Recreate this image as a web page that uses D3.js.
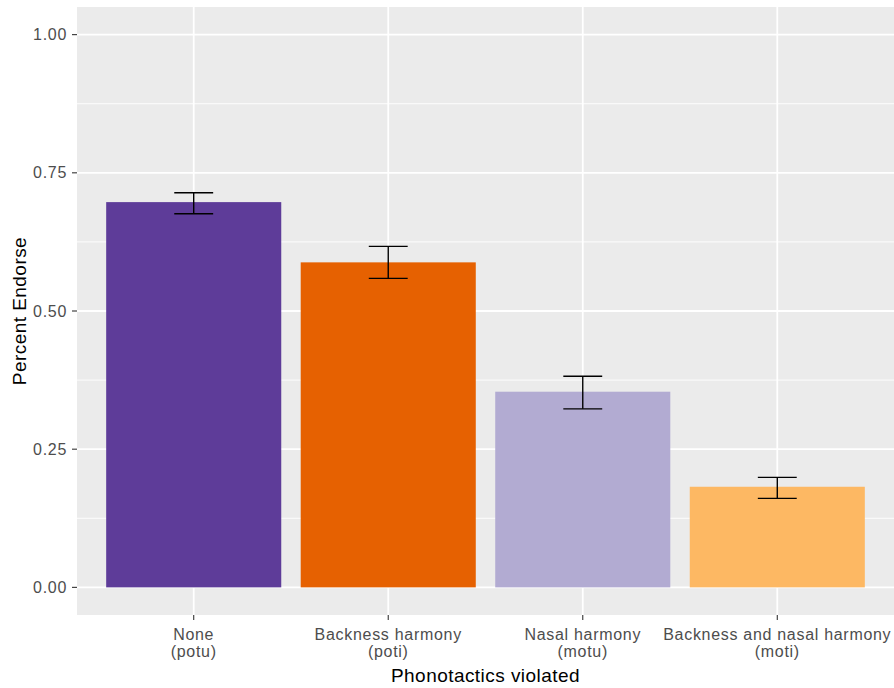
<!DOCTYPE html>
<html>
<head>
<meta charset="utf-8">
<script src="https://cdn.jsdelivr.net/npm/d3@7"></script>
<style>
  html, body { margin: 0; padding: 0; background: #fff; }
  svg { display: block; font-family: "Liberation Sans", Arial, sans-serif; }
</style>
</head>
<body>
<svg id="chart" width="894" height="688"></svg>
<script>
// Endorsement rate by which phonotactic pattern a word violates
const categories = ["None\n(potu)", "Backness harmony\n(poti)", "Nasal harmony\n(motu)", "Backness and nasal harmony\n(moti)"];
const means = [0.697, 0.588, 0.354, 0.182];
const errLow = [0.676, 0.559, 0.323, 0.161];
const errHigh = [0.714, 0.617, 0.382, 0.199];
const barColors = ["#5e3c99", "#e66101", "#b2abd2", "#fdb863"];
const yTicks = [0, 0.25, 0.5, 0.75, 1.0];
const yMinor = [0.125, 0.375, 0.625, 0.875];

const W = 894, H = 688;
const panel = { left: 77, top: 7, right: 894, bottom: 615 };

const svg = d3.select("#chart");

// discrete x with ggplot-style 0.6 expansion on both ends
const step = (panel.right - panel.left) / (categories.length - 1 + 1.2);
const xCenter = i => panel.left + step * (0.6 + i);
const y = d3.scaleLinear().domain([-0.05, 1.05]).range([panel.bottom, panel.top]);

// panel background
svg.append("rect")
  .attr("x", panel.left).attr("y", panel.top)
  .attr("width", panel.right - panel.left).attr("height", panel.bottom - panel.top)
  .attr("fill", "#ebebeb");

// minor grid
svg.append("g").selectAll("line").data(yMinor).join("line")
  .attr("x1", panel.left).attr("x2", panel.right)
  .attr("y1", d => y(d)).attr("y2", d => y(d))
  .attr("stroke", "#fff").attr("stroke-width", 0.9);

// major grid
svg.append("g").selectAll("line").data(yTicks).join("line")
  .attr("x1", panel.left).attr("x2", panel.right)
  .attr("y1", d => y(d)).attr("y2", d => y(d))
  .attr("stroke", "#fff").attr("stroke-width", 1.8);
svg.append("g").selectAll("line").data(categories).join("line")
  .attr("x1", (d, i) => xCenter(i)).attr("x2", (d, i) => xCenter(i))
  .attr("y1", panel.top).attr("y2", panel.bottom)
  .attr("stroke", "#fff").attr("stroke-width", 1.8);

// bars
const barW = step * 0.9;
svg.append("g").selectAll("rect").data(means).join("rect")
  .attr("x", (d, i) => xCenter(i) - barW / 2)
  .attr("width", barW)
  .attr("y", d => y(d))
  .attr("height", d => y(0) - y(d))
  .attr("fill", (d, i) => barColors[i]);

// error bars
const errW = step * 0.2;
const eb = svg.append("g").attr("stroke", "#000").attr("stroke-width", 1.4).attr("fill", "none");
categories.forEach((c, i) => {
  const cx = xCenter(i);
  eb.append("line").attr("x1", cx).attr("x2", cx).attr("y1", y(errLow[i])).attr("y2", y(errHigh[i]));
  eb.append("line").attr("x1", cx - errW / 2).attr("x2", cx + errW / 2).attr("y1", y(errLow[i])).attr("y2", y(errLow[i]));
  eb.append("line").attr("x1", cx - errW / 2).attr("x2", cx + errW / 2).attr("y1", y(errHigh[i])).attr("y2", y(errHigh[i]));
});

// y axis ticks and labels
const yAxis = svg.append("g");
yTicks.forEach(t => {
  yAxis.append("line").attr("x1", panel.left - 5).attr("x2", panel.left)
    .attr("y1", y(t)).attr("y2", y(t)).attr("stroke", "#333").attr("stroke-width", 1.1);
  yAxis.append("text").attr("x", panel.left - 10).attr("y", y(t))
    .attr("text-anchor", "end").attr("dominant-baseline", "central")
    .attr("font-size", 16).attr("letter-spacing", 0.7).attr("fill", "#4d4d4d")
    .text(d3.format(".2f")(t));
});

// x axis ticks and labels
const xAxis = svg.append("g");
categories.forEach((c, i) => {
  const cx = xCenter(i);
  xAxis.append("line").attr("x1", cx).attr("x2", cx)
    .attr("y1", panel.bottom).attr("y2", panel.bottom + 5).attr("stroke", "#333").attr("stroke-width", 1.1);
  const lines = c.split("\n");
  const t = xAxis.append("text").attr("text-anchor", "middle")
    .attr("font-size", 16).attr("letter-spacing", 0.7).attr("fill", "#4d4d4d");
  lines.forEach((ln, k) => {
    t.append("tspan").attr("x", cx).attr("y", 640 + k * 17).text(ln);
  });
});

// axis titles
svg.append("text")
  .attr("x", (panel.left + panel.right) / 2).attr("y", 682)
  .attr("text-anchor", "middle").attr("font-size", 19).attr("letter-spacing", 0.45).attr("fill", "#000")
  .text("Phonotactics violated");
svg.append("text")
  .attr("transform", `translate(26, ${(panel.top + panel.bottom) / 2}) rotate(-90)`)
  .attr("text-anchor", "middle").attr("font-size", 19).attr("letter-spacing", 0.45).attr("fill", "#000")
  .text("Percent Endorse");
</script>
</body>
</html>
